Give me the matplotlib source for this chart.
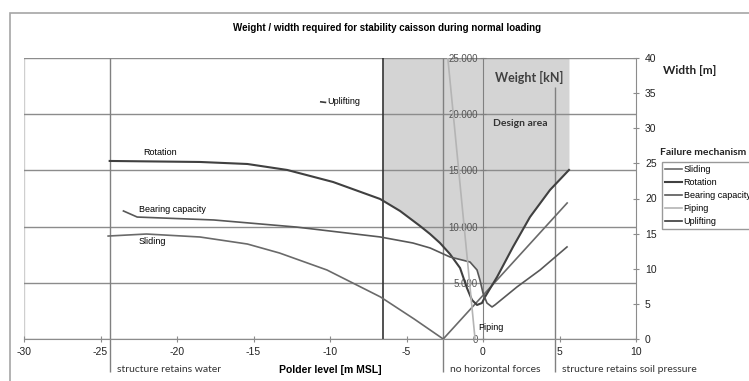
import numpy as np
import matplotlib
matplotlib.use("Agg")
import matplotlib.pyplot as plt
from matplotlib.ticker import FuncFormatter
from matplotlib.patches import Rectangle

plt.rcParams["axes.unicode_minus"] = False

# ---------------- data ----------------
sliding_x = [-24.5, -22.0, -18.5, -15.4, -13.3, -10.2, -6.7, -4.5, -2.6, 5.5]
sliding_w = [9160, 9340, 9075, 8450, 7650, 6140, 3740, 1780, 0, 12100]

rotation_x = [-24.4, -18.5, -15.4, -12.8, -9.8, -6.73, -5.42, -4.12, -3.46, -2.81,
              -2.16, -1.50, -1.05, -0.72, -0.39, -0.07, 0.13, 0.92, 1.96, 3.07, 4.38, 5.62]
rotation_w = [15840, 15750, 15570, 15040, 13970, 12460, 11390, 10060, 9340, 8540,
              7560, 6320, 4540, 3470, 3030, 3200, 3740, 5520, 8190, 10850, 13260, 15040]

bearing_x = [-23.5, -22.6, -17.6, -12.2, -6.73, -4.58, -3.46, -2.16, -0.85, -0.39,
             -0.20, 0.0, 0.26, 0.59, 0.78, 2.22, 3.73, 5.49]
bearing_w = [11390, 10850, 10590, 9960, 9080, 8540, 8100, 7300, 6850, 6140,
             5250, 4090, 3200, 2850, 3030, 4630, 6140, 8190]

piping_x = [-2.3, -0.52]
piping_w = [25000, 0]

uplifting_x = [-10.6, -10.3]
uplifting_w = [21100, 21050]

series_names = ["Sliding", "Rotation", "Bearing capacity", "Piping", "Uplifting"]

ref_x = [-24.4, -2.6, 4.7]
ref_top = [25000, 25000, 22400]
ref_labels = ["structure retains water", "no horizontal forces", "structure retains soil pressure"]

design_left, design_right = -6.54, 5.62

x_ticks = list(range(-30, 11, 5))
weight_ticks = list(range(0, 25001, 5000))
width_ticks = list(range(0, 41, 5))

# ---------------- figure ----------------
W, H = 749, 381
fig = plt.figure(figsize=(W / 100, H / 100), dpi=100)
fig.patch.set_facecolor("white")


def fx(px):
    return px / W


def fy(py):
    return 1 - py / H


BASE = ["Liberation Sans", "DejaVu Sans"]
CAL = ["Lato", "DejaVu Sans"]

ax = fig.add_axes([fx(24), fy(339), fx(636) - fx(24), fy(58) - fy(339)])
ax.set_xlim(-30, 10)
ax.set_ylim(0, 25000)
ax.set_facecolor("none")

for s in ["top", "right"]:
    ax.spines[s].set_visible(False)
ax.spines["left"].set_position(("data", 0))
ax.spines["left"].set_color("#808080")
ax.spines["bottom"].set_color("#8c8c8c")

ax.set_xticks(x_ticks)
ax.set_yticks(weight_ticks)
ax.yaxis.set_major_formatter(FuncFormatter(lambda v, p: f"{int(v):,}".replace(",", ".")))
ax.tick_params(axis="x", direction="inout", length=5, color="#8c8c8c",
               labelsize=7.5, pad=3, labelcolor="#222222")
ax.tick_params(axis="y", direction="inout", length=5, color="#808080",
               labelsize=7, pad=1, labelcolor="#555555")
for lab in ax.get_xticklabels() + ax.get_yticklabels():
    lab.set_family(BASE)
ax.yaxis.grid(True, color="#8c8c8c", lw=1)
ax.set_axisbelow(True)

# left plot-area border
ax.axvline(ax.get_xlim()[0], color="#cfcfcf", lw=1, zorder=0.5)

# design area fill
gx = np.linspace(design_left, design_right, 500)
env = np.maximum(np.interp(gx, rotation_x, rotation_w), np.interp(gx, bearing_x, bearing_w))
ax.fill_between(gx, env, ax.get_ylim()[1], color="#d4d4d4", lw=0, zorder=0.2)
ax.vlines(design_left, 0, ax.get_ylim()[1], color="#333333", lw=1.2, zorder=1.5)

# reference vertical lines
ax.vlines(ref_x, -2950, ref_top, colors="#808080", lw=1, clip_on=False, zorder=1.4)
for x, lab in zip(ref_x, ref_labels):
    ax.text(x + 0.45, -2700, lab, fontsize=7.5, family=CAL, color="#333333",
            ha="left", va="center", clip_on=False)

# curves
l_sl, = ax.plot(sliding_x, sliding_w, color="#6a6a6a", lw=1.2, zorder=3)
l_ro, = ax.plot(rotation_x, rotation_w, color="#404040", lw=1.5, zorder=3)
l_be, = ax.plot(bearing_x, bearing_w, color="#585858", lw=1.2, zorder=3)
l_pi, = ax.plot(piping_x, piping_w, color="#b4b4b4", lw=1.2, zorder=3)
l_up, = ax.plot(uplifting_x, uplifting_w, color="#3a3a3a", lw=1.2, zorder=3)

# curve labels
ax.text(-22.2, 16550, "Rotation", fontsize=6.5, family=BASE, ha="left", va="center")
ax.text(-22.5, 11480, "Bearing capacity", fontsize=6.5, family=BASE, ha="left", va="center")
ax.text(-22.5, 8630, "Sliding", fontsize=6.5, family=BASE, ha="left", va="center")
ax.text(-10.2, 21086, "Uplifting", fontsize=6.5, family=BASE, ha="left", va="center")
ax.text(-0.33, 980, "Piping", fontsize=6.5, family=BASE, ha="left", va="center")

ax.text(0.78, 23310, "Weight [kN]", fontsize=9, family=CAL, fontweight="bold",
        color="#404040", ha="left", va="center")
ax.text(0.65, 19130, "Design area", fontsize=7.5, family=CAL, fontweight="bold",
        color="#333333", ha="left", va="center")

ax.set_xlabel("Polder level [m MSL]", fontsize=7.5, fontweight="bold", family=BASE)
ax.xaxis.set_label_coords(0.5, -(370 - 339) / (339 - 58))
ax.xaxis.label.set_va("center")

# width axis (right)
ax2 = ax.twinx()
ax2.set_ylim(0, 40)
ax2.set_yticks(width_ticks)
for s in ["top", "left", "bottom"]:
    ax2.spines[s].set_visible(False)
ax2.spines["right"].set_color("#8c8c8c")
ax2.tick_params(axis="y", direction="inout", length=5, color="#8c8c8c",
                labelsize=7.5, pad=4, labelcolor="#222222")
for lab in ax2.get_yticklabels():
    lab.set_family(BASE)

fig.text(fx(663), fy(70), "Width [m]", fontsize=8.5, family=CAL, fontweight="bold",
         ha="left", va="center", color="#222222")

# title
fig.text(fx(387), fy(28), "Weight / width required for stability caisson during normal loading",
         fontsize=7, family=BASE, fontweight="bold", ha="center", va="center")

# legend
fig.text(fx(660), fy(153), "Failure mechanism", fontsize=7.5, family=CAL, fontweight="bold",
         ha="left", va="center", color="#222222")
leg = fig.legend([l_sl, l_ro, l_be, l_pi, l_up], series_names, loc="upper left",
                 bbox_to_anchor=(fx(662), fy(162)), bbox_transform=fig.transFigure,
                 prop={"family": BASE, "size": 6.5}, frameon=True, fancybox=False,
                 handlelength=1.9, handletextpad=0.2, labelspacing=0.45,
                 borderpad=0.3, borderaxespad=0)
leg.get_frame().set_edgecolor("#808080")
leg.get_frame().set_linewidth(1)

# chart border
fig.add_artist(Rectangle((fx(10), -0.1), 1.2, fy(13) + 0.1, transform=fig.transFigure,
                         fill=False, edgecolor="#a6a6a6", lw=1.2))

fig.savefig("out.png", dpi=100)
